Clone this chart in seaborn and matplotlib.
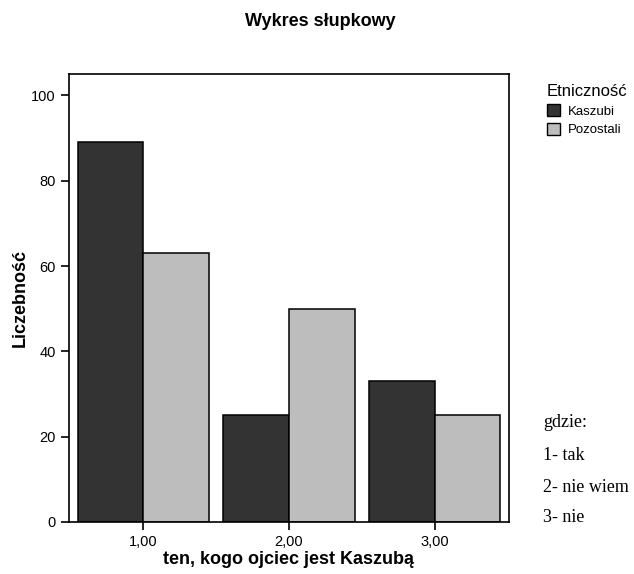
# -*- coding: utf-8 -*-
"""
    Bar chart: ten, kogo ojciec jest Kaszubą, split by ethnicity
"""

import pandas as pd
import matplotlib
matplotlib.use("Agg")
import matplotlib.pyplot as plt
from matplotlib.patches import Patch
import seaborn as sns

categories = ["1,00", "2,00", "3,00"]
groups = ["Kaszubi", "Pozostali"]
kaszubi = [89, 25, 33]
pozostali = [63, 50, 25]
y_ticks = [0, 20, 40, 60, 80, 100]
notes = ["gdzie:", "1- tak", "2- nie wiem", "3- nie"]
colors = ["#333333", "#bdbdbd"]

df = pd.DataFrame({
    "kat": categories * 2,
    "Etniczność": [groups[0]] * 3 + [groups[1]] * 3,
    "n": kaszubi + pozostali,
})

sns.set_style("white")
plt.rcParams["font.family"] = ["Liberation Sans", "DejaVu Sans"]
plt.rcParams["text.color"] = "black"
plt.rcParams["axes.labelcolor"] = "black"

fig = plt.figure(figsize=(6.34, 5.74), dpi=100)
ax = fig.add_axes([0.1088, 0.0906, 0.694, 0.7804])

sns.barplot(data=df, x="kat", y="n", hue="Etniczność", order=categories,
            hue_order=groups, palette=colors, width=0.9,
            edgecolor="black", linewidth=1.1, saturation=1, ax=ax, legend=False)

ax.set_xlim(-0.51, 2.51)
ax.set_ylim(0, 105)
ax.set_yticks(y_ticks)
ax.set_yticklabels([str(v) for v in y_ticks])
for s in ax.spines.values():
    s.set_visible(True)
    s.set_color("black")
    s.set_linewidth(1.2)
ax.tick_params(axis="both", which="both", direction="out", length=6, width=1.2,
               colors="black", labelsize=10.5, left=True, bottom=True)
ax.set_ylabel("Liczebność", fontsize=13, fontweight="bold", labelpad=2)
ax.set_xlabel("ten, kogo ojciec jest Kaszubą", fontsize=13, fontweight="bold", labelpad=1)
fig.text(0.505, 0.962, "Wykres słupkowy", ha="center", va="center",
         fontsize=13, fontweight="bold")

# legend
handles = [Patch(facecolor=c, edgecolor="black") for c in colors]
leg = fig.legend(handles, groups, title="Etniczność", loc="upper left",
                 bbox_to_anchor=(0.862, 0.854), frameon=False, fontsize=9.5,
                 title_fontsize=12, handlelength=1.0, handleheight=1.0,
                 handletextpad=0.6, labelspacing=0.4, borderaxespad=0, borderpad=0)
leg._legend_box.align = "left"

# annotation in serif
ys = [0.264, 0.206, 0.150, 0.098]
for t, y in zip(notes, ys):
    fig.text(0.857, y, t, ha="left", va="center", fontsize=13,
             family=["Liberation Serif", "DejaVu Serif"])

fig.savefig("out.png", dpi=100)
